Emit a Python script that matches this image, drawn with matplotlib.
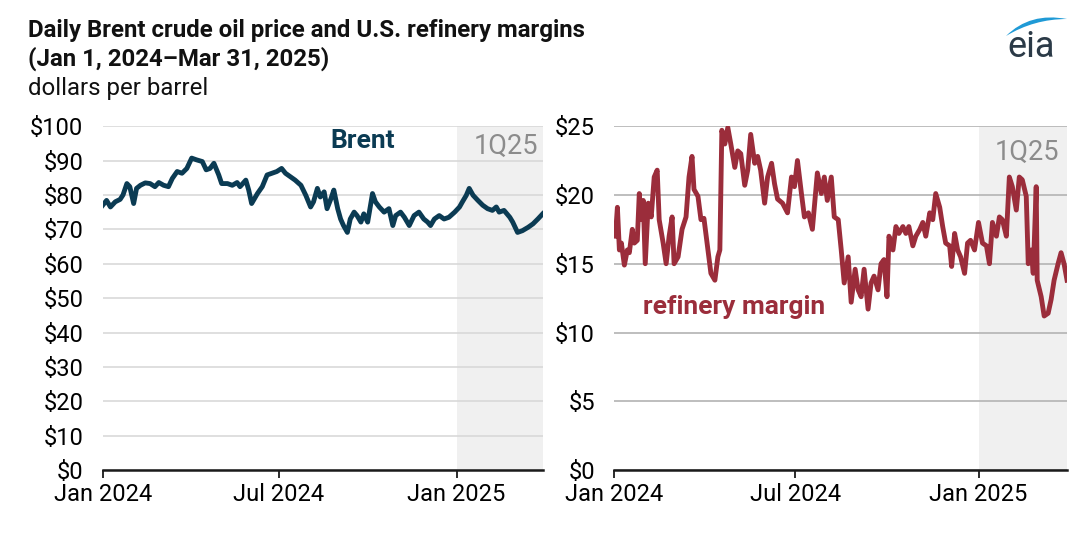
import pandas as pd
import matplotlib
matplotlib.use("Agg")
import matplotlib.pyplot as plt
import matplotlib.dates as mdates
from matplotlib.ticker import FuncFormatter
from matplotlib.path import Path
from matplotlib.patches import PathPatch

plt.rcParams['font.family'] = ['Roboto', 'DejaVu Sans']

# Brent price, $/b (day offset from Jan 1, 2024)
brent_days = [0, 4, 8, 13, 18, 21, 25, 28, 32, 35, 39, 44, 49, 54, 58, 63, 68, 72, 77, 82,
              87, 92, 97, 103, 107, 111, 115, 120, 123, 129, 134, 139, 142, 148, 151, 154,
              160, 165, 170, 175, 180, 185, 189, 194, 199, 205, 210, 215, 218, 222, 225,
              229, 232, 236, 239, 243, 246, 249, 253, 256, 260, 263, 267, 270, 274, 279,
              282, 286, 291, 296, 300, 303, 308, 312, 317, 322, 327, 332, 336, 339, 343,
              348, 353, 358, 364, 369, 372, 376, 379, 383, 388, 393, 398, 403, 407, 410,
              415, 421, 424, 429, 434, 440, 445, 450, 455]
brent_vals = [77.0, 78.4, 76.5, 78.0, 78.7, 80.0, 83.3, 82.4, 77.5, 81.9, 82.8, 83.5, 83.3,
              82.4, 83.6, 82.8, 82.4, 84.8, 86.8, 86.3, 87.7, 90.7, 90.2, 89.7, 87.3, 87.7,
              89.2, 85.8, 83.3, 83.3, 82.8, 83.6, 82.4, 84.3, 81.4, 77.5, 80.4, 82.4, 85.8,
              86.3, 86.8, 87.7, 86.3, 85.3, 84.3, 82.8, 79.9, 76.5, 78.0, 81.9, 79.4, 80.9,
              76.0, 78.9, 81.4, 76.0, 73.0, 71.1, 69.1, 73.0, 75.0, 74.0, 72.1, 74.5, 72.1,
              80.4, 78.0, 76.5, 75.0, 76.0, 71.1, 74.0, 75.0, 73.5, 71.1, 74.0, 75.0, 73.0,
              72.1, 71.1, 73.0, 74.0, 73.0, 73.5, 75.0, 76.5, 78.0, 79.9, 81.9, 79.9, 78.4,
              77.0, 76.0, 75.5, 76.5, 75.0, 75.5, 73.5, 72.1, 69.1, 69.6, 70.6, 71.6, 73.0,
              74.5]

# U.S. refinery margin, $/b
margin_days = [1, 3, 5, 7, 10, 13, 15, 18, 20, 23, 25, 27, 29, 31, 34, 37, 40, 43, 45, 49,
               52, 55, 58, 60, 64, 68, 72, 75, 78, 80, 84, 87, 90, 94, 97, 101, 104, 106,
               108, 111, 114, 117, 121, 124, 127, 131, 134, 137, 141, 144, 147, 151, 154,
               158, 161, 164, 169, 174, 178, 181, 184, 188, 191, 195, 199, 204, 208, 211,
               214, 218, 221, 225, 228, 231, 235, 238, 242, 245, 248, 251, 255, 258, 261,
               265, 268, 271, 274, 276, 280, 283, 286, 290, 293, 296, 300, 303, 307, 310,
               313, 317, 320, 323, 327, 330, 333, 337, 339, 342, 345, 348, 352, 355, 358,
               362, 366, 370, 374, 377, 380, 384, 387, 390, 394, 397, 400, 404, 407, 410,
               414, 416, 419, 421, 424, 425, 429, 432, 436, 439, 442, 446, 449, 452, 455]
margin_vals = [17.0, 19.1, 16.0, 16.5, 14.9, 16.0, 15.8, 17.5, 16.5, 16.7, 20.1, 18.2, 19.6,
               15.0, 19.4, 18.4, 21.3, 21.8, 18.2, 16.5, 15.0, 17.0, 18.4, 15.0, 15.5, 17.5,
               18.4, 21.3, 22.8, 20.4, 19.9, 18.2, 18.3, 16.0, 14.3, 13.8, 15.5, 16.0, 24.7,
               23.7, 24.9, 23.7, 22.0, 23.2, 23.0, 20.7, 21.8, 24.4, 22.3, 22.8, 21.8, 19.4,
               21.3, 22.3, 20.8, 19.7, 19.4, 18.7, 21.3, 20.6, 22.5, 20.1, 18.4, 18.7, 17.5,
               21.6, 20.1, 21.3, 19.6, 21.3, 18.4, 18.2, 16.0, 13.6, 15.5, 12.2, 14.6, 13.1,
               12.6, 14.6, 11.7, 13.6, 14.1, 13.1, 15.0, 15.3, 12.6, 17.0, 16.0, 17.7, 17.2,
               17.7, 17.2, 17.7, 16.3, 17.0, 17.5, 18.0, 17.0, 18.7, 18.2, 20.1, 19.1, 17.7,
               16.5, 16.3, 14.8, 17.2, 16.0, 15.5, 14.3, 16.5, 16.7, 16.0, 18.0, 16.5, 16.3,
               15.0, 18.0, 17.0, 18.4, 18.2, 17.0, 21.3, 20.6, 18.9, 21.3, 21.1, 19.9, 15.0,
               16.0, 14.3, 20.6, 13.8, 12.6, 11.2, 11.4, 12.4, 13.8, 15.0, 15.8, 15.0, 13.8]

start = pd.Timestamp("2024-01-01")
brent_dates = start + pd.to_timedelta(brent_days, unit="D")
margin_dates = start + pd.to_timedelta(margin_days, unit="D")
x_min = pd.Timestamp("2024-01-01")
x_max = pd.Timestamp("2025-03-31")
q1_start = pd.Timestamp("2025-01-01")

fig = plt.figure(figsize=(10.8, 5.46), dpi=100)
ax1 = fig.add_axes([0.0951, 0.139, 0.4074, 0.630])
ax2 = fig.add_axes([0.5689, 0.139, 0.4191, 0.630])

panels = [
    (ax1, brent_dates, brent_vals, "#0b3b53", 100, 10, "#d9d9d9"),
    (ax2, margin_dates, margin_vals, "#9b2d3b", 25, 5, "#b3b3b3"),
]
for ax, dates, vals, color, ymax, step, gridc in panels:
    ax.axvspan(q1_start, x_max, color="#f0f0f0", zorder=0, lw=0)
    ax.plot(dates, vals, color=color, lw=3.5, solid_joinstyle="round", zorder=3)
    ax.set_xlim(x_min, x_max)
    ax.set_ylim(0, ymax)
    ax.set_yticks(range(0, ymax + 1, step))
    ax.yaxis.set_major_formatter(FuncFormatter(lambda v, p: f"${v:.0f}"))
    ax.grid(axis="y", color=gridc, lw=1.2, zorder=1)
    ax.set_axisbelow(True)
    for s in ["top", "right", "left"]:
        ax.spines[s].set_visible(False)
    ax.spines["bottom"].set_color("#1a1a1a")
    ax.spines["bottom"].set_linewidth(1.8)
    ax.spines["bottom"].set_zorder(4)
    ax.set_xticks([pd.Timestamp("2024-01-01"), pd.Timestamp("2024-07-01"), pd.Timestamp("2025-01-01")])
    ax.xaxis.set_major_formatter(mdates.DateFormatter("%b %Y"))
    ax.tick_params(axis="x", length=6, width=1.3, color="#1a1a1a", labelsize=17, pad=3)
    ax.tick_params(axis="y", length=0, labelsize=17, pad=14)
    ax.set_facecolor("none")

ax1.text(0.592, 0.956, "Brent", transform=ax1.transAxes, color="#0b3b53",
         fontsize=19, fontweight="bold", ha="center", va="center")
ax1.text(0.99, 0.942, "1Q25", transform=ax1.transAxes, color="#8c8c8c",
         fontsize=19.5, ha="right", va="center")
ax2.text(0.064, 0.475, "refinery margin", transform=ax2.transAxes, color="#9b2d3b",
         fontsize=19, fontweight="bold", ha="left", va="center")
ax2.text(0.982, 0.924, "1Q25", transform=ax2.transAxes, color="#8c8c8c",
         fontsize=19.5, ha="right", va="center")

fig.text(0.026, 0.945, "Daily Brent crude oil price and U.S. refinery margins",
         fontsize=17.3, fontweight="bold", ha="left", va="center", color="#111111")
fig.text(0.026, 0.892, "(Jan 1, 2024\u2013Mar 31, 2025)",
         fontsize=17.3, fontweight="bold", ha="left", va="center", color="#111111")
fig.text(0.026, 0.838, "dollars per barrel", fontsize=17.3, ha="left", va="center",
         color="#111111")

# eia logo: text plus a blue swoosh (pixel coords from top-left, converted to inches)
fig.text(1031 / 1080, 1 - 47 / 546, "eia", fontsize=26, ha="center", va="center",
         color="#2b3a47")
swoosh_px = [(1006, 36), (1030, 12), (1067, 19), (1067, 19), (1034, 19), (1006, 36), (1006, 36)]
swoosh = [(x / 100, (546 - y) / 100) for x, y in swoosh_px]
codes = [Path.MOVETO, Path.CURVE3, Path.CURVE3, Path.LINETO, Path.CURVE3, Path.CURVE3,
         Path.CLOSEPOLY]
fig.add_artist(PathPatch(Path(swoosh, codes), facecolor="#1f9ad6", edgecolor="none",
                         transform=fig.dpi_scale_trans))

fig.savefig("out.png", dpi=100)
